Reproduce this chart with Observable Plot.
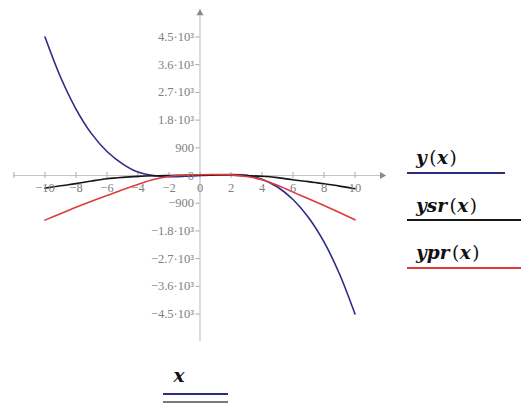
<!DOCTYPE html>
<html>
<head>
<meta charset="utf-8">
<script src="https://cdn.jsdelivr.net/npm/d3@7"></script>
<script src="https://cdn.jsdelivr.net/npm/@observablehq/plot@0.6"></script>
<style>
  html, body { margin: 0; padding: 0; background: #fff; }
  #chart { position: relative; width: 521px; height: 408px; }
</style>
</head>
<body>
<div id="chart"></div>
<script>
// ---- data ----
const xValues   = [-10, -9, -8, -7, -6, -5, -4, -3, -2, -1, 0, 1, 2, 3, 4, 5, 6, 7, 8, 9, 10];
const yValues   = [4500, 3200, 2160, 1360, 780, 380, 110, -5, -35, -25, 0, 20, 30, 5, -120, -375, -780, -1365, -2160, -3200, -4500];
const ysrValues = [-410, -335, -265, -180, -105, -60, -30, -10, 0, 8, 12, 12, 8, -5, -25, -70, -140, -200, -270, -345, -430];
const yprValues = [-1450, -1240, -1030, -835, -650, -460, -290, -130, -30, 10, 25, 30, 20, -30, -140, -320, -540, -755, -975, -1205, -1440];

const seriesNames  = ["y", "ysr", "ypr"];
const seriesColors = ["#2c2c86", "#161616", "#de3b3b"];

const xTicks      = [-12, -10, -8, -6, -4, -2, 0, 2, 4, 6, 8, 10];
const xTickLabels = [-10, -8, -6, -4, -2, 0, 2, 4, 6, 8, 10];
const yTicks      = [4500, 3600, 2700, 1800, 900, 0, -900, -1800, -2700, -3600, -4500];
const yTickLabels = ["4.5·10³", "3.6·10³", "2.7·10³", "1.8·10³", "900", "0",
                     "−900", "−1.8·10³", "−2.7·10³", "−3.6·10³", "−4.5·10³"];
const xDomain = [-12, 12];
const yDomain = [-5400, 5400];
const axisLabel = "x";

// ---- table built from the arrays ----
const seriesValues = [yValues, ysrValues, yprValues];
const rows = [];
seriesNames.forEach((name, i) => {
  xValues.forEach((x, j) => rows.push({series: name, x, y: seriesValues[i][j]}));
});

const axisGray = "#c4c4c4";
const labelGray = "#808080";
const tickFont = "'Liberation Serif', serif";
const mathFont = "'DejaVu Serif', serif";

// tick half-lengths expressed in data units of each scale
const xTickHalf = (yDomain[1] - yDomain[0]) / (408 - 8.8 - 66.8) * 3;
const yTickLen = (xDomain[1] - xDomain[0]) / (521 - 13.5 - 135.5) * 4;

const chart = Plot.plot({
  width: 521,
  height: 408,
  marginLeft: 13.5,
  marginRight: 135.5,
  marginTop: 8.8,
  marginBottom: 66.8,
  style: {background: "#fff", fontFamily: tickFont, fontSize: "12.5px", overflow: "visible"},
  x: {domain: xDomain, axis: null},
  y: {domain: yDomain, axis: null},
  color: {domain: seriesNames, range: seriesColors},
  marks: [
    // axis lines
    Plot.ruleY([0], {x1: xDomain[0], x2: xDomain[1], stroke: axisGray, strokeWidth: 1.2}),
    Plot.ruleX([0], {y1: yDomain[0], y2: yDomain[1], stroke: axisGray, strokeWidth: 1.2}),
    // arrows
    Plot.dot([0], {x: () => xDomain[1], y: () => 0, symbol: "triangle", rotate: 90, r: 2.6, fill: "#8a8a8a", dx: -4}),
    Plot.dot([0], {x: () => 0, y: () => yDomain[1], symbol: "triangle", r: 2.6, fill: "#8a8a8a", dy: 4}),
    // x ticks (crossing the axis)
    Plot.ruleX(xTicks, {x: d => d, y1: -xTickHalf, y2: xTickHalf, stroke: "#a8a8a8", strokeWidth: 1}),
    // y ticks (left of axis)
    Plot.ruleY(yTicks, {y: d => d, x1: -yTickLen, x2: 0, stroke: "#a8a8a8", strokeWidth: 1}),
    // curves
    Plot.line(rows, {x: "x", y: "y", z: "series", stroke: "series", strokeWidth: 1.6, curve: "catmull-rom"}),
    // tick labels
    Plot.text(xTickLabels, {x: d => d, y: () => 0, text: d => d < 0 ? "−" + Math.abs(d) : String(d),
      dy: 12, fill: labelGray, fontSize: 12.5, fontFamily: tickFont}),
    Plot.text(yTicks, {x: () => 0, y: d => d, text: (d, i) => yTickLabels[i],
      textAnchor: "end", dx: -6, fill: labelGray, fontSize: 12.5, fontFamily: tickFont})
  ]
});

document.getElementById("chart").appendChild(chart);

// ---- legend (right) and axis label (bottom) ----
const svg = d3.select(chart);
const legendRows = seriesNames.map((name, i) => ({name, color: seriesColors[i]}));
const lx = 416, lineX1 = 407;
const baseY = [164, 212, 259];
const lineY = [173, 220, 268];
const lineX2 = [505, 521, 521];
legendRows.forEach((r, i) => {
  const t = svg.append("text")
    .attr("x", lx).attr("y", baseY[i])
    .attr("text-anchor", "start")
    .attr("font-family", mathFont).attr("font-size", 18.5)
    .attr("font-weight", "bold")
    .attr("fill", "#111");
  t.append("tspan").attr("font-style", "italic").text(r.name);
  t.append("tspan").attr("dx", 2.5).attr("font-weight", "normal").text("(");
  t.append("tspan").attr("dx", 0.5).attr("font-style", "italic").text(axisLabel);
  t.append("tspan").attr("dx", 1.5).attr("font-weight", "normal").text(")");
  svg.append("line")
    .attr("x1", lineX1).attr("x2", lineX2[i])
    .attr("y1", lineY[i]).attr("y2", lineY[i])
    .attr("stroke", r.color).attr("stroke-width", 2);
});
svg.append("text")
  .attr("x", 179).attr("y", 382).attr("text-anchor", "middle")
  .attr("font-family", mathFont).attr("font-size", 18.5).attr("font-style", "italic")
  .attr("font-weight", "bold")
  .attr("fill", "#111").text(axisLabel);
svg.append("line").attr("x1", 163).attr("x2", 228).attr("y1", 394).attr("y2", 394)
  .attr("stroke", seriesColors[0]).attr("stroke-width", 2);
svg.append("line").attr("x1", 163).attr("x2", 228).attr("y1", 402).attr("y2", 402)
  .attr("stroke", "#7a7a7a").attr("stroke-width", 2);
</script>
</body>
</html>
